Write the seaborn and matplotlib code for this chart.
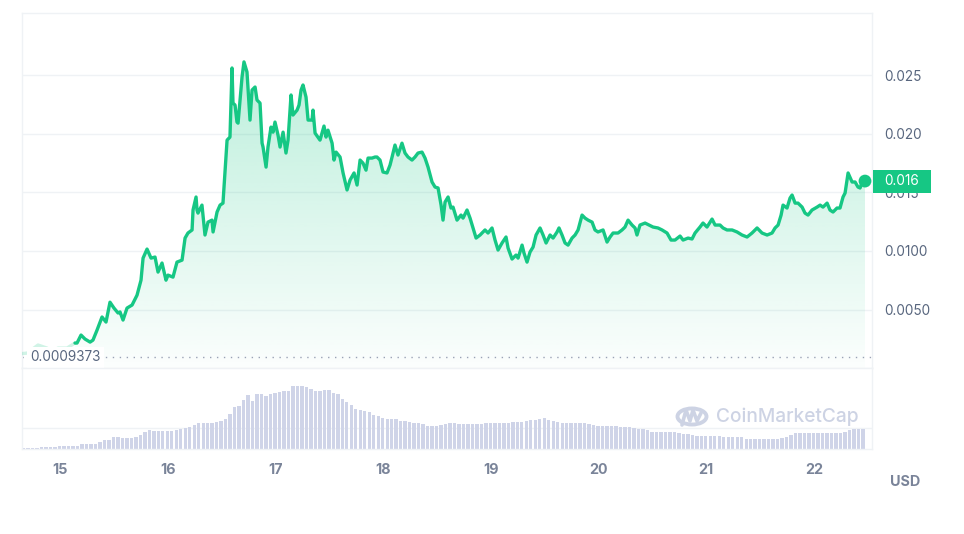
import numpy as np
import pandas as pd
import seaborn as sns
import matplotlib.pyplot as plt
from matplotlib.patches import Circle, Rectangle
from matplotlib.lines import Line2D

# ---------------- data ----------------
days = [14.647, 14.694, 14.796, 14.879, 14.935, 14.981, 15.065, 15.139,
        15.158, 15.195, 15.232, 15.279, 15.306, 15.344, 15.390, 15.427, 15.464, 15.501,
        15.539, 15.557, 15.585, 15.622, 15.669, 15.715, 15.752, 15.771, 15.808, 15.845,
        15.882, 15.910, 15.947, 15.984, 16.003, 16.049, 16.086, 16.133, 16.161, 16.188,
        16.226, 16.235, 16.263, 16.272, 16.281, 16.318, 16.346, 16.374, 16.411, 16.421,
        16.458, 16.486, 16.513, 16.551, 16.578, 16.597, 16.606, 16.625, 16.643, 16.653,
        16.690, 16.708, 16.736, 16.764, 16.783, 16.811, 16.829, 16.857, 16.876, 16.885,
        16.913, 16.931, 16.959, 16.978, 16.996, 17.024, 17.043, 17.071, 17.098, 17.117,
        17.145, 17.163, 17.201, 17.219, 17.238, 17.256, 17.284, 17.303, 17.340, 17.349,
        17.368, 17.414, 17.451, 17.470, 17.488, 17.526, 17.544, 17.563, 17.600, 17.628,
        17.665, 17.693, 17.730, 17.758, 17.786, 17.813, 17.841, 17.860, 17.897, 17.925,
        17.943, 17.971, 17.999, 18.036, 18.064, 18.083, 18.110, 18.138, 18.175, 18.203,
        18.231, 18.268, 18.296, 18.324, 18.361, 18.389, 18.417, 18.454, 18.482, 18.510,
        18.538, 18.556, 18.575, 18.603, 18.630, 18.649, 18.686, 18.723, 18.742, 18.779,
        18.807, 18.835, 18.863, 18.900, 18.946, 18.974, 19.011, 19.039, 19.067, 19.104,
        19.141, 19.160, 19.197, 19.234, 19.253, 19.290, 19.308, 19.336, 19.364, 19.392,
        19.420, 19.457, 19.485, 19.513, 19.550, 19.578, 19.615, 19.633, 19.661, 19.689,
        19.717, 19.754, 19.782, 19.810, 19.847, 19.875, 19.903, 19.940, 19.967, 19.995,
        20.042, 20.079, 20.107, 20.135, 20.181, 20.218, 20.246, 20.274, 20.311, 20.339,
        20.357, 20.385, 20.432, 20.469, 20.506, 20.552, 20.590, 20.636, 20.673, 20.710,
        20.757, 20.785, 20.831, 20.868, 20.896, 20.942, 20.970, 21.007, 21.054, 21.082,
        21.128, 21.156, 21.193, 21.240, 21.286, 21.332, 21.379, 21.425, 21.472, 21.518,
        21.565, 21.611, 21.639, 21.667, 21.695, 21.713, 21.750, 21.778, 21.797, 21.825,
        21.852, 21.890, 21.917, 21.945, 21.982, 22.029, 22.057, 22.084, 22.122, 22.149,
        22.177, 22.214, 22.242, 22.270, 22.289, 22.317, 22.354, 22.382, 22.409, 22.428,
        22.447, 22.474]

prices = [0.00125, 0.00129, 0.00198, 0.00172, 0.00138, 0.00172, 0.00172, 0.00215,
          0.00215, 0.00283, 0.00249, 0.00223, 0.00240, 0.00326, 0.00437, 0.00394, 0.00563, 0.00513,
          0.00471, 0.00480, 0.00411, 0.00513, 0.00539, 0.00623, 0.00751, 0.00939, 0.01016, 0.00939,
          0.00948, 0.00820, 0.00897, 0.00751, 0.00794, 0.00777, 0.00905, 0.00922, 0.01110, 0.01153,
          0.01179, 0.01349, 0.01460, 0.01349, 0.01323, 0.01391, 0.01136, 0.01246, 0.01263, 0.01162,
          0.01332, 0.01391, 0.01408, 0.01945, 0.01971, 0.02560, 0.02261, 0.02244, 0.02099, 0.02090,
          0.02483, 0.02612, 0.02526, 0.02116, 0.02372, 0.02398, 0.02287, 0.02261, 0.01919, 0.01886,
          0.01715, 0.01886, 0.02056, 0.02013, 0.02099, 0.01988, 0.01886, 0.02013, 0.01835, 0.01945,
          0.02330, 0.02159, 0.02201, 0.02244, 0.02372, 0.02415, 0.02312, 0.02116, 0.02116, 0.02201,
          0.02005, 0.01945, 0.02065, 0.01971, 0.02030, 0.01919, 0.01775, 0.01843, 0.01801, 0.01665,
          0.01520, 0.01605, 0.01665, 0.01562, 0.01775, 0.01749, 0.01689, 0.01792, 0.01792, 0.01801,
          0.01801, 0.01775, 0.01673, 0.01665, 0.01732, 0.01801, 0.01903, 0.01818, 0.01919, 0.01835,
          0.01801, 0.01775, 0.01801, 0.01835, 0.01843, 0.01792, 0.01715, 0.01588, 0.01545, 0.01537,
          0.01391, 0.01263, 0.01417, 0.01460, 0.01366, 0.01374, 0.01263, 0.01306, 0.01280, 0.01349,
          0.01280, 0.01196, 0.01110, 0.01136, 0.01179, 0.01153, 0.01196, 0.01093, 0.01008, 0.01068,
          0.01119, 0.01025, 0.00931, 0.00965, 0.00939, 0.01050, 0.00982, 0.00905, 0.00991, 0.01033,
          0.01136, 0.01196, 0.01136, 0.01068, 0.01136, 0.01110, 0.01162, 0.01196, 0.01136, 0.01068,
          0.01050, 0.01110, 0.01136, 0.01179, 0.01306, 0.01280, 0.01263, 0.01246, 0.01179, 0.01162,
          0.01179, 0.01076, 0.01119, 0.01153, 0.01153, 0.01179, 0.01204, 0.01263, 0.01221, 0.01196,
          0.01136, 0.01221, 0.01238, 0.01221, 0.01204, 0.01196, 0.01179, 0.01153, 0.01093, 0.01093,
          0.01127, 0.01093, 0.01110, 0.01102, 0.01153, 0.01204, 0.01238, 0.01204, 0.01272, 0.01221,
          0.01221, 0.01196, 0.01179, 0.01179, 0.01162, 0.01136, 0.01119, 0.01153, 0.01196, 0.01153,
          0.01136, 0.01153, 0.01196, 0.01221, 0.01306, 0.01391, 0.01366, 0.01451, 0.01477, 0.01408,
          0.01408, 0.01374, 0.01323, 0.01306, 0.01349, 0.01374, 0.01391, 0.01374, 0.01408, 0.01349,
          0.01332, 0.01366, 0.01366, 0.01460, 0.01494, 0.01665, 0.01588, 0.01588, 0.01545, 0.01537,
          0.01579, 0.01596]

# hourly volume (relative units), first bar starts at vol_start
vol_start = 14.647
volumes = [1, 1, 1, 1, 2, 2, 2, 2, 3.3, 3.3, 3.3, 3.3, 3.3, 5.3, 5.3, 5.3, 5.3, 7.3, 9.3, 9.3,
           12.3, 12, 11, 11, 11, 11.7, 14.3, 17, 19, 18.3, 18.3, 18.3, 18.3, 18.5, 19.5, 20, 21, 22.3,
           24, 26, 26, 26, 26, 27, 27.7, 30, 35, 41.7, 43, 49, 54, 48.3, 55, 55, 53, 55, 56, 57,
           57.7, 58, 63.3, 63, 62.7, 62, 60, 58, 57.7, 59, 59, 56, 55, 50, 46.7, 44, 40, 39, 38.3,
           37, 34, 33.3, 31.5, 30, 30, 30, 28.5, 27.7, 27.5, 26.5, 26, 25, 23, 22.7, 23.5, 24.3,
           25.5, 26.3, 25.8, 25, 25, 25, 25, 25, 25.5, 25.7, 25.7, 25.7, 25.7, 26, 26.5, 27.3,
           27.3, 27.5, 28, 29.3, 29.5, 30, 31, 29.5, 28.3, 27, 25.7, 25.7, 25.7, 25.7, 25.7, 25.7,
           25.5, 24.5, 23.3, 23.3, 23.3, 23.3, 23.3, 22.5, 21.7, 21.7, 21, 20, 20, 19, 17, 16.7,
           16.7, 16.7, 16.7, 16.7, 16.5, 15, 15, 14, 13.3, 13.3, 13.3, 13.3, 13.3, 13, 11.7, 11.7,
           11.7, 11.7, 11.7, 10.5, 10, 10, 10, 10, 10, 10, 10, 11, 12.3, 14.5, 15.7, 15.7, 15.7,
           15.7, 15.7, 15.7, 15.7, 15.7, 15.7, 15.7, 15.7, 17, 19, 20, 20, 20.2]

base_price = 0.0009373
base_label = "0.0009373"
last_label = "0.016"
ytick_vals = [0.005, 0.010, 0.015, 0.020, 0.025]
ytick_labels = ["0.0050", "0.0100", "0.015", "0.020", "0.025"]
xtick_vals = [15, 16, 17, 18, 19, 20, 21, 22]
xtick_labels = ["15", "16", "17", "18", "19", "20", "21", "22"]
currency = "USD"
watermark = "CoinMarketCap"
n_faded = 8  # leading points drawn faded

# ---------------- style ----------------
sns.set_theme(style="white")
plt.rcParams['font.family'] = ['Inter', 'DejaVu Sans']

GREEN = '#16c784'
GRID = '#eff2f5'
TXT = '#58667e'
XLAB = '#7a8499'
VOLC = '#cfd4e8'
WM = '#cdd3e4'

W, H = 964, 534
fig = plt.figure(figsize=(W / 100, H / 100), dpi=100)
fig.patch.set_facecolor('white')


def rect(x0, y0, x1, y1):
    return [x0 / W, 1 - y1 / H, (x1 - x0) / W, (y1 - y0) / H]


ax = fig.add_axes(rect(22, 13, 872, 368.25))
axv = fig.add_axes(rect(22, 368.25, 872, 449), sharex=ax)

xmin, xmax = 14.647, 22.539
ymin, ymax = 0.0, 0.03029

df = pd.DataFrame({'day': days, 'price': prices})
df_f = df.iloc[:n_faded]
df_b = df.iloc[n_faded - 1:]

# gradient fill under the bright part of the line
poly = ax.fill_between(df_b['day'], df_b['price'], ymin, color='none', lw=0)
top = max(prices)
n = 256
alpha = np.linspace(0.015, 0.29, n)
rgba = np.zeros((n, 1, 4))
rgba[..., 0] = 22 / 255
rgba[..., 1] = 199 / 255
rgba[..., 2] = 132 / 255
rgba[:, 0, 3] = alpha
im = ax.imshow(rgba, extent=[xmin, xmax, ymin, top], origin='lower',
               aspect='auto', zorder=1, interpolation='bilinear')
im.set_clip_path(poly.get_paths()[0], transform=ax.transData)

# lines
sns.lineplot(data=df_f, x='day', y='price', ax=ax, color=GREEN, alpha=0.2,
             linewidth=2.4, estimator=None, sort=False, zorder=4)
sns.lineplot(data=df_b, x='day', y='price', ax=ax, color=GREEN,
             linewidth=2.4, estimator=None, sort=False, zorder=4)
sns.scatterplot(x=[days[-1]], y=[prices[-1]], ax=ax, color=GREEN, s=85,
                edgecolor='none', zorder=6)

# baseline
ax.axhline(base_price, color='#9aa2b5', lw=1.0, ls=(0, (1, 4)), zorder=2)
ax.text(8 / 850, base_price, base_label, transform=ax.get_yaxis_transform(),
        ha='left', va='center', fontsize=9.8, color=TXT, zorder=7,
        bbox=dict(boxstyle='square,pad=0.25', fc='white', ec='none'))

ax.set_xlim(xmin, xmax)
ax.set_ylim(ymin, ymax)
ax.yaxis.tick_right()
ax.set_yticks(ytick_vals)
ax.set_yticklabels(ytick_labels)
ax.tick_params(axis='y', length=0, pad=9, labelsize=9.8, labelcolor=TXT)
ax.tick_params(axis='x', bottom=False, labelbottom=False)
ax.grid(axis='y', color=GRID, lw=1)
ax.set_axisbelow(True)
for s in ax.spines.values():
    s.set_color(GRID)
    s.set_linewidth(1)
ax.set_xlabel('')
ax.set_ylabel('')

# last price badge
bh = 11.5 * (ymax - ymin) / 355.25
badge = Rectangle((1 + 1 / 850, prices[-1] - bh), 58 / 850, 2 * bh,
                  transform=ax.get_yaxis_transform(), facecolor=GREEN,
                  edgecolor='none', clip_on=False, zorder=8)
ax.add_patch(badge)
ax.text(1 + 30 / 850, prices[-1], last_label, transform=ax.get_yaxis_transform(),
        ha='center', va='center', color='white', fontsize=9.8, zorder=9, clip_on=False)

# volume bars
vol_days = [vol_start + i / 24 for i in range(len(volumes))]
axv.bar(vol_days, volumes, width=0.75 / 24, align='edge', color=VOLC, lw=0, zorder=2)
axv.set_ylim(0, 81)
axv.set_yticks([21])
axv.grid(axis='y', color=GRID, lw=1)
axv.set_axisbelow(True)
axv.tick_params(axis='y', length=0, labelleft=False, labelright=False)
axv.set_xticks(xtick_vals)
axv.set_xticklabels(xtick_labels)
axv.tick_params(axis='x', length=3, width=1, color='#e3e6ee', pad=7,
                labelsize=10.3, labelcolor=XLAB)
for lab in axv.get_xticklabels():
    lab.set_fontweight('bold')
for s in axv.spines.values():
    s.set_color(GRID)
    s.set_linewidth(1)
axv.set_xlim(xmin, xmax)

# currency label
fig.text(905 / W, 1 - 481.5 / H, currency, ha='center', va='center',
         fontsize=10.3, fontweight='bold', color=XLAB)

# watermark
fig.patches.append(Circle((692 / W, 1 - 416.5 / H), 14.5 / W, transform=fig.transFigure,
                          fill=False, ec=WM, lw=2.8, zorder=5))
fig.lines.append(Line2D([682 / W, 686 / W, 690 / W, 693 / W, 697 / W, 701 / W],
                        [1 - 425 / H, 1 - 410 / H, 1 - 421 / H, 1 - 410 / H, 1 - 421 / H, 1 - 413 / H],
                        transform=fig.transFigure, color=WM, lw=2.6, zorder=5,
                        solid_joinstyle='round', solid_capstyle='round'))
fig.text(716 / W, 1 - 416.5 / H, watermark, ha='left', va='center', fontsize=13.8,
         fontweight='medium', color=WM, zorder=5)

fig.savefig('out.png', dpi=100, facecolor='white')
